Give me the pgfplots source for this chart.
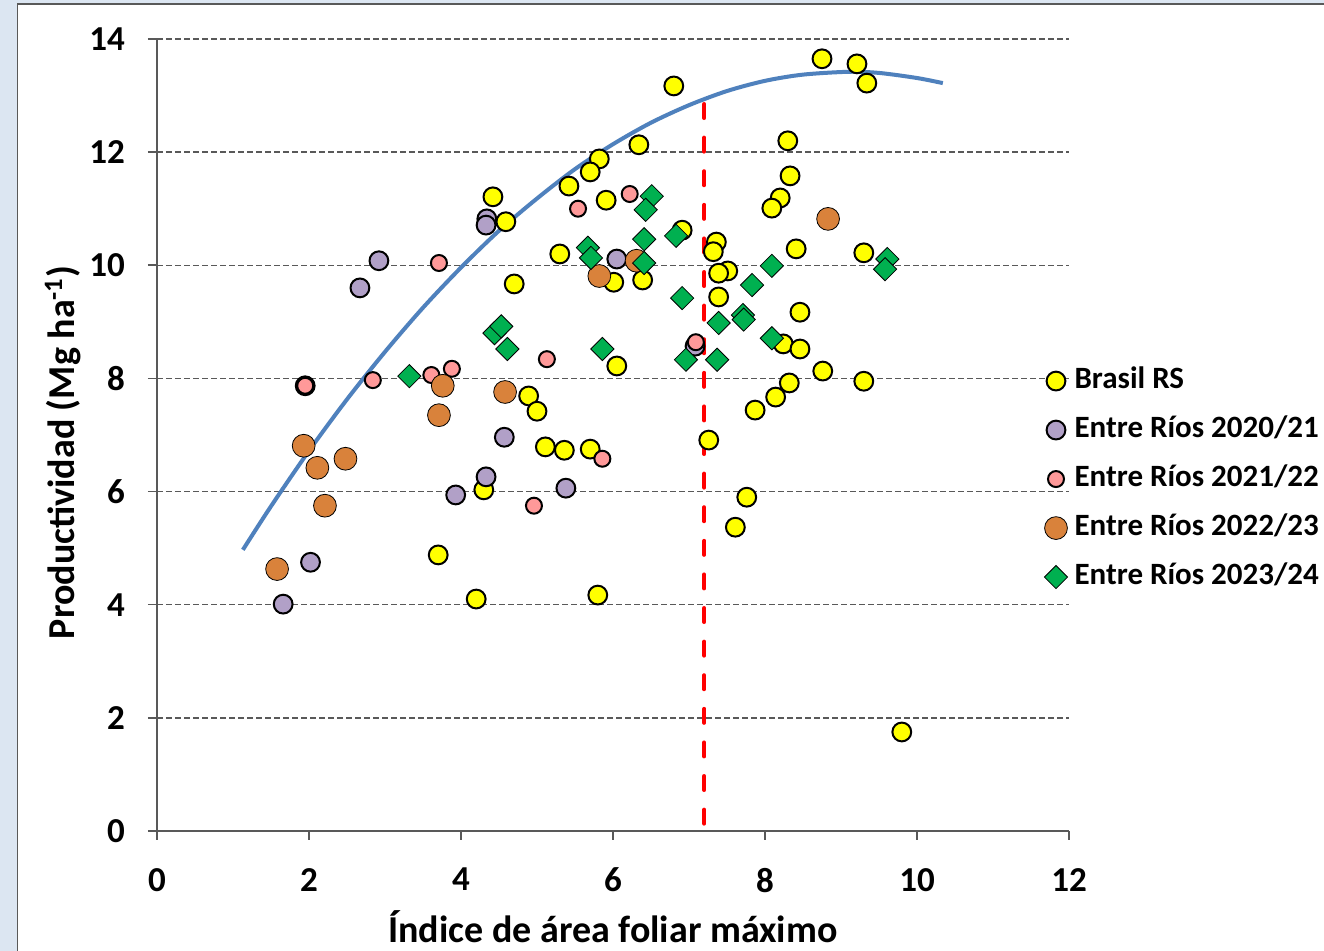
\documentclass[border=0pt]{standalone}
\usepackage{pgfplots}
\pgfplotsset{compat=1.18}
\usepackage{fontspec}
\setmainfont{Carlito}
\definecolor{bgblue}{HTML}{DCE6F2}
\definecolor{gridgray}{HTML}{595959}
\definecolor{ptyellow}{HTML}{FFFF00}
\definecolor{ptpurple}{HTML}{B1A0C7}
\definecolor{ptpink}{HTML}{FF9999}
\definecolor{ptorange}{HTML}{D9823B}
\definecolor{ptgreen}{HTML}{00B050}
\definecolor{trendblue}{HTML}{4F81BD}
\begin{document}
\begin{tikzpicture}
\useasboundingbox (0,0) rectangle (662pt,475.5pt);
\fill[bgblue] (0,0) rectangle (662pt,475.5pt);
\begin{scope}
\clip (0,0) rectangle (662pt,475.5pt);
\filldraw[fill=white,draw=gridgray,line width=0.6pt] (8.75pt,-20pt) rectangle (700pt,473.5pt);
\end{scope}
\begin{axis}[
  at={(78.5pt,60pt)}, anchor=south west,
  scale only axis, width=456pt, height=396pt,
  xmin=0, xmax=12, ymin=0, ymax=14,
  xtick={0,2,...,12}, ytick={0,2,...,14},
  axis x line*=bottom, axis y line*=left,
  axis line style={gridgray, line width=1pt},
  tick align=outside, major tick length=4.5pt,
  tick style={gridgray, line width=0.8pt},
  ymajorgrids,
  major grid style={gridgray, line width=0.7pt, dash pattern=on 3pt off 1.5pt},
  /pgf/number format/assume math mode=true,
  tick label style={font=\fontsize{17.5}{19}\selectfont\bfseries},
  yticklabel style={xshift=-8pt},
  xticklabel style={yshift=-10.5pt},
  xlabel={Índice de área foliar máximo},
  ylabel={Productividad (Mg ha\textsuperscript{-1})},
  label style={font=\fontsize{19}{22}\selectfont\bfseries},
  xlabel style={at={(axis description cs:0.5,-0.121)}, anchor=center},
  ylabel style={at={(axis description cs:-0.103,0.478)}, anchor=center},
  clip=false,
  legend style={at={(axis description cs:0.9726,0.585)}, anchor=north west,
    draw=none, fill=none, inner sep=0pt, row sep=11.5pt,
    font=\fontsize{15.5}{17}\selectfont\bfseries,
    nodes={inner sep=0pt, text height=10pt, text depth=3pt}},
  legend cell align=left,
  /tikz/every odd column/.append style={column sep=3.5pt},
  legend image code/.code={\draw[mark repeat=2,mark phase=2,#1] plot coordinates {(0pt,0pt)(5pt,0pt)(10pt,0pt)};},
]
\addplot[red, line width=2pt, line cap=round, dash pattern=on 7pt off 9.8pt, forget plot] coordinates {(7.2,12.85) (7.2,0)};

\addplot[only marks, mark=*, mark size=4.7pt, mark options={fill=ptyellow, draw=black, line width=1pt}] coordinates {
(6.80,13.17) (8.75,13.65) (9.21,13.56) (9.34,13.22) (6.34,12.13) (8.30,12.20)
(5.82,11.88) (5.70,11.65) (5.42,11.40) (4.42,11.21) (5.91,11.15) (8.33,11.58)
(8.20,11.19) (8.09,11.01) (4.59,10.77) (6.91,10.62) (7.36,10.41) (7.32,10.24)
(5.30,10.20) (8.41,10.29) (9.30,10.22) (7.51,9.90) (7.39,9.86) (6.01,9.70)
(6.39,9.74) (4.70,9.67) (7.39,9.44) (8.46,9.17) (8.24,8.61) (8.46,8.52)
(6.05,8.22) (8.76,8.13) (9.30,7.95) (8.32,7.92) (8.14,7.67) (7.87,7.44)
(4.89,7.69) (5.00,7.42) (5.11,6.79) (5.36,6.73) (5.70,6.75) (7.26,6.91)
(4.30,6.03) (7.76,5.90) (7.61,5.37) (3.70,4.88) (4.20,4.10) (5.80,4.17)
(9.80,1.75)};
\addlegendentry{Brasil RS}

\addplot[only marks, mark=*, mark size=4.7pt, mark options={fill=ptpurple, draw=black, line width=1pt}] coordinates {
(2.92,10.08) (2.67,9.60) (2.02,4.75) (1.66,4.01) (3.93,5.94) (4.33,6.26)
(4.34,10.82) (4.33,10.71) (4.57,6.96) (6.05,10.11) (7.08,8.57) (5.38,6.06)
(1.95,7.87)};
\addlegendentry{Entre Ríos 2020/21}

\addplot[only marks, mark=*, mark size=4pt, mark options={fill=ptpink, draw=black, line width=1pt}] coordinates {
(3.71,10.04) (1.95,7.87) (2.84,7.97) (3.61,8.06) (3.88,8.17) (5.54,11.00)
(6.22,11.26) (5.13,8.34) (5.86,6.58) (7.09,8.64) (4.96,5.75)};
\addlegendentry{Entre Ríos 2021/22}

\addplot[only marks, mark=*, mark size=5.7pt, mark options={fill=ptorange, draw=none}] coordinates {
(3.76,7.87) (3.71,7.35) (1.93,6.81) (2.11,6.42) (2.48,6.58) (2.21,5.75)
(1.58,4.63) (4.58,7.76) (5.82,9.81) (6.31,10.08) (8.83,10.82)};
\addlegendentry{Entre Ríos 2022/23}

\addplot[only marks, mark=square*, mark size=4.1pt, mark options={fill=ptgreen, draw=none, rotate=45}] coordinates {
(3.32,8.04) (4.44,8.80) (4.53,8.92) (4.61,8.52) (5.67,10.31) (5.71,10.13)
(6.51,11.22) (6.43,10.98) (6.41,10.46) (6.41,10.04) (6.83,10.52) (6.91,9.42)
(5.86,8.52) (6.96,8.33) (7.37,8.33) (7.39,8.98) (7.71,9.12) (7.72,9.04)
(7.83,9.65) (8.09,9.99) (8.09,8.71) (9.61,10.11) (9.58,9.93)};
\addlegendentry{Entre Ríos 2023/24}

\addplot[trendblue, line width=2pt, smooth, forget plot] coordinates {
(1.13,4.97) (1.5,5.74) (2,6.72) (2.5,7.63) (3,8.47) (3.5,9.25) (4,9.96)
(4.5,10.61) (5,11.18) (5.5,11.70) (6,12.14) (6.5,12.52) (7,12.83) (7.5,13.08)
(8,13.26) (8.5,13.37) (9.1,13.42) (9.5,13.40) (10,13.31) (10.34,13.22)};
\end{axis}
\end{tikzpicture}
\end{document}
